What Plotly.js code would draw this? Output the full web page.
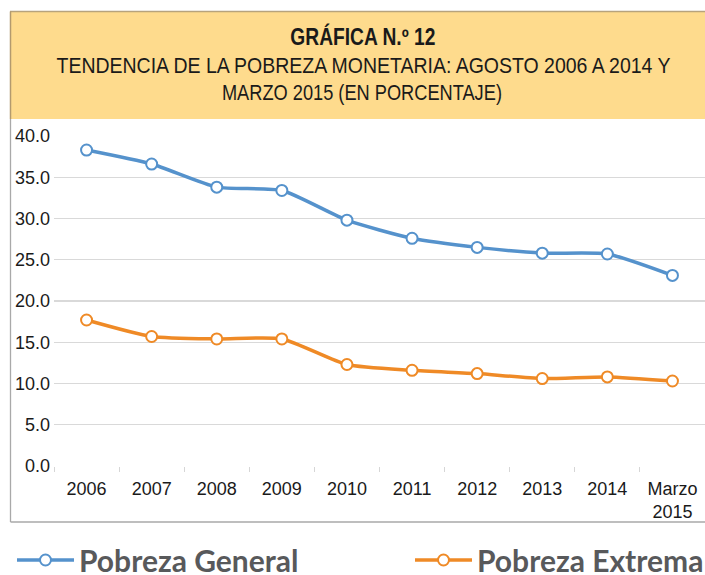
<!DOCTYPE html>
<html>
<head>
<meta charset="utf-8">
<script src="https://cdn.plot.ly/plotly-3.0.1.min.js"></script>
<style>
html,body{margin:0;padding:0;background:#fff;}
#chart{width:705px;height:575px;}
</style>
</head>
<body>
<div id="chart"></div>
<script>
const categories = ["2006","2007","2008","2009","2010","2011","2012","2013","2014","Marzo<br>2015"];
const pobrezaGeneral = [38.3, 36.6, 33.8, 33.4, 29.8, 27.6, 26.5, 25.8, 25.7, 23.1];
const pobrezaExtrema = [17.7, 15.7, 15.4, 15.4, 12.3, 11.6, 11.2, 10.6, 10.8, 10.3];
const seriesNames = ["Pobreza General", "Pobreza Extrema"];
const yTicks = [0, 5, 10, 15, 20, 25, 30, 35, 40];

const blue = "#5592cc";
const orange = "#ef8a26";

const traces = [
  {
    x: categories, y: pobrezaGeneral, name: seriesNames[0], legend: "legend",
    type: "scatter", mode: "lines+markers",
    line: {color: blue, width: 3.5, shape: "spline", smoothing: 0.6},
    marker: {symbol: "circle", size: 11, color: "#ffffff", line: {color: blue, width: 2}}
  },
  {
    x: categories, y: pobrezaExtrema, name: seriesNames[1], legend: "legend2",
    type: "scatter", mode: "lines+markers",
    line: {color: orange, width: 3.5, shape: "spline", smoothing: 0.6},
    marker: {symbol: "circle", size: 11, color: "#ffffff", line: {color: orange, width: 2}}
  }
];

// pixel -> paper helpers (plot area: x 54..705, y 136..466)
const L = 54, W = 651, T = 136, H = 330;
const px = v => (v - L) / W;
const py = v => (T + H - v) / H;
const cy = v => 1 - v / 575;

const titleFamily = "Liberation Sans, Arial, sans-serif";
const legendFont = {family: "Lato, Open Sans, sans-serif", size: 30, color: "#58595b", weight: "bold"};

const layout = {
  width: 705, height: 575,
  margin: {l: L, r: 0, t: T, b: 575 - T - H, pad: 0, autoexpand: false},
  paper_bgcolor: "#ffffff", plot_bgcolor: "#ffffff",
  showlegend: true,
  legend: {
    orientation: "h", xref: "container", yref: "container", x: 12 / 705, xanchor: "left", y: cy(560), yanchor: "middle",
    font: legendFont, itemwidth: 57, bgcolor: "rgba(0,0,0,0)", borderwidth: 0
  },
  legend2: {
    orientation: "h", xref: "container", yref: "container", x: 410 / 705, xanchor: "left", y: cy(560), yanchor: "middle",
    font: legendFont, itemwidth: 57, bgcolor: "rgba(0,0,0,0)", borderwidth: 0
  },
  xaxis: {
    type: "category", range: [-0.5, 9.5], showgrid: false, zeroline: false, showline: false,
    ticks: "outside", tickson: "boundaries", ticklen: 5, tickcolor: "#d6d6d6", tickwidth: 1,
    tickfont: {family: "Liberation Sans, Arial, sans-serif", size: 18, color: "#1a1a1a"},
    ticklabelstandoff: 10, fixedrange: true
  },
  yaxis: {
    range: [0, 40], tickvals: yTicks, tickformat: ".1f", showgrid: true,
    gridcolor: "#d9d9d9", gridwidth: 1.4, zeroline: false, showline: false, ticks: "",
    tickfont: {family: "Liberation Sans, Arial, sans-serif", size: 18, color: "#1a1a1a"},
    ticklabelstandoff: 3, fixedrange: true
  },
  shapes: [
    {type: "rect", xref: "paper", yref: "paper", x0: px(10), x1: px(706), y0: py(119), y1: py(11.5),
     fillcolor: "#fedb8d", line: {width: 0}, layer: "below"},
    {type: "line", xref: "paper", yref: "paper", x0: px(10), x1: px(706), y0: py(11.5), y1: py(11.5),
     line: {color: "#b7a37c", width: 1.5}},
    {type: "line", xref: "paper", yref: "paper", x0: px(10.5), x1: px(10.5), y0: py(119), y1: py(11.5),
     line: {color: "#b39a6e", width: 1.5}},
    {type: "line", xref: "paper", yref: "paper", x0: px(10.5), x1: px(10.5), y0: py(522), y1: py(119),
     line: {color: "#a9a9a9", width: 1.3}},
    {type: "line", xref: "paper", yref: "paper", x0: px(10.5), x1: px(706), y0: py(522), y1: py(522),
     line: {color: "#a9a9a9", width: 1.3}}
  ],
  annotations: [
    {xref: "paper", yref: "paper", x: px(363), y: py(36), xanchor: "center", yanchor: "middle", showarrow: false,
     text: "GRÁFICA N.º 12", font: {family: titleFamily, size: 23, weight: "bold", color: "#1a1a1a"}},
    {xref: "paper", yref: "paper", x: px(363), y: py(66), xanchor: "center", yanchor: "middle", showarrow: false,
     text: "TENDENCIA DE LA POBREZA MONETARIA: AGOSTO 2006 A 2014 Y", font: {family: titleFamily, size: 22.5, color: "#1a1a1a"}},
    {xref: "paper", yref: "paper", x: px(362), y: py(93), xanchor: "center", yanchor: "middle", showarrow: false,
     text: "MARZO 2015 (EN PORCENTAJE)", font: {family: titleFamily, size: 22.5, color: "#1a1a1a"}}
  ]
};

// target rendered widths of the condensed-looking title lines
const titleWidths = [145, 614, 280];

Plotly.newPlot("chart", traces, layout, {displayModeBar: false, staticPlot: true}).then(gd => {
  const texts = gd.querySelectorAll(".annotation-text");
  texts.forEach((t, i) => {
    if (titleWidths[i]) {
      t.setAttribute("textLength", titleWidths[i]);
      t.setAttribute("lengthAdjust", "spacingAndGlyphs");
    }
  });
});
</script>
</body>
</html>
